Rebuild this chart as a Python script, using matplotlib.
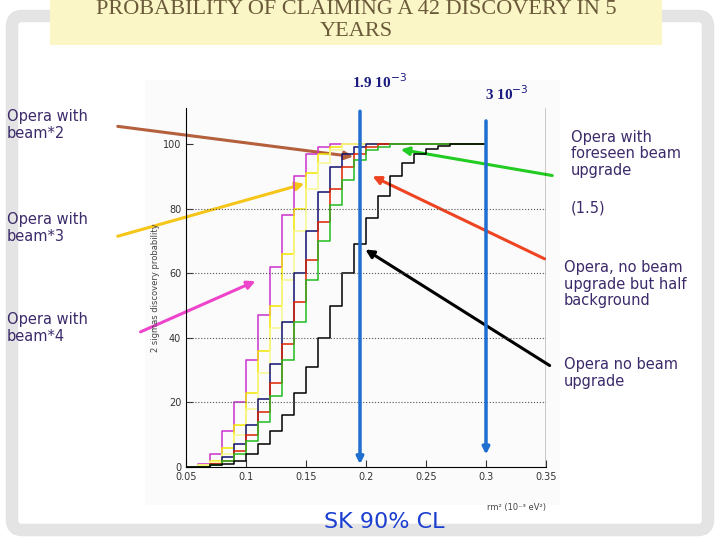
import matplotlib
matplotlib.use("Agg")
import matplotlib.pyplot as plt
from matplotlib.patches import FancyBboxPatch, Rectangle

x = [0.05 + 0.01 * i for i in range(26)]
magenta = [0, 1, 4, 11, 20, 33, 47, 62, 78, 90, 97, 99, 100, 100, 100, 100, 100, 100, 100, 100, 100, 100, 100, 100, 100, 100]
yellow = [0, 0.5, 2, 6, 13, 23, 36, 50, 66, 80, 91, 97, 99, 100, 100, 100, 100, 100, 100, 100, 100, 100, 100, 100, 100, 100]
lyellow = [0, 0.5, 1.5, 4, 10, 18, 29, 43, 58, 73, 86, 94, 98, 100, 100, 100, 100, 100, 100, 100, 100, 100, 100, 100, 100, 100]
navy = [0, 0, 1, 3, 7, 13, 21, 32, 45, 60, 73, 85, 93, 97, 99, 100, 100, 100, 100, 100, 100, 100, 100, 100, 100, 100]
red = [0, 0, 1, 2, 5, 10, 17, 26, 38, 51, 64, 76, 86, 93, 97, 99, 100, 100, 100, 100, 100, 100, 100, 100, 100, 100]
green = [0, 0, 0.5, 2, 4, 8, 14, 22, 33, 45, 58, 70, 81, 89, 95, 98, 99, 100, 100, 100, 100, 100, 100, 100, 100, 100]
black = [0, 0, 0.5, 1, 2, 4, 7, 11, 16, 23, 31, 40, 50, 60, 69, 77, 84, 90, 94, 97, 98.5, 99.5, 100, 100, 100, 100]
series = [(magenta, "#cc33cc"), (yellow, "#f2e600"), (lyellow, "#f8f890"), (navy, "#101070"),
          (red, "#dd2200"), (green, "#22bb22"), (black, "#000000")]
yticks = [0, 20, 40, 60, 80, 100]
xticks = [0.05, 0.1, 0.15, 0.2, 0.25, 0.3, 0.35]
xtick_labels = ["0.05", "0.1", "0.15", "0.2", "0.25", "0.3", "0.35"]
sk_line = 0.195
line2 = 0.30

W, H = 720, 540
fig = plt.figure(figsize=(7.2, 5.4), dpi=100)
bg = fig.add_axes([0, 0, 1, 1])
bg.set_xlim(0, W); bg.set_ylim(H, 0); bg.axis("off")
bg.add_patch(Rectangle((0, 0), W, H, fc="#ffffff", ec="none"))
bg.add_patch(FancyBboxPatch((12, 16), 696, 514, boxstyle="round,pad=0,rounding_size=10",
                            fc="#ffffff", ec="#e4e4e4", lw=9))
bg.add_patch(Rectangle((145, 80), 415, 425, fc="#fbfbfb", ec="none"))
bg.add_patch(Rectangle((50, -5), 612, 50, fc="#fbf6c6", ec="none"))
bg.text(356, 10, "PROBABILITY OF CLAIMING A 42 DISCOVERY IN 5", ha="center", va="center",
        fontsize=16, family="Liberation Serif", color="#6b5a3a")
bg.text(356, 31, "YEARS", ha="center", va="center", fontsize=16, family="Liberation Serif", color="#6b5a3a")

ax = fig.add_axes([186 / W, 1 - 467 / H, 360 / W, (467 - 108) / H])
for vals, c in series:
    ax.step(x, vals, where="post", color=c, lw=1.1)
ax.set_xlim(0.05, 0.35)
ax.set_ylim(0, 100 * 359 / 323)
ax.set_facecolor("none")
for v in yticks[1:-1]:
    ax.axhline(v, color="#555555", ls=":", lw=0.8)
ax.axvline(0.35, color="black", lw=1)
ax.spines["top"].set_visible(False)
ax.spines["right"].set_visible(False)
ax.set_yticks(yticks)
ax.set_xticks(xticks)
ax.set_xticklabels(xtick_labels)
ax.tick_params(labelsize=7, colors="#333333", direction="in", length=5)
ax.set_ylabel("2 sigmas discovery probability", fontsize=6, color="#444444", labelpad=2)
ax.text(0.35, -11, "rm² (10⁻³ eV²)", ha="right", va="top", fontsize=6, color="#444444")
for xv, top in [(sk_line, 111), (line2, 108)]:
    ax.annotate("", xy=(xv, 0 if xv == sk_line else 3), xytext=(xv, top),
                arrowprops=dict(arrowstyle="-|>", color="#1f6fd0", lw=2.5, mutation_scale=10),
                annotation_clip=False)

bg.text(380, 82, "1.9 10$^{-3}$", ha="center", va="center", fontsize=11, family="Liberation Serif",
        weight="bold", color="#1a1a80")
bg.text(507, 94, "3 10$^{-3}$", ha="center", va="center", fontsize=11, family="Liberation Serif",
        weight="bold", color="#1a1a80")
bg.text(384, 522, "SK 90% CL", ha="center", va="center", fontsize=16, color="#1a3fd0")

arrows = [((115, 126), (356, 157), "#b5603c"), ((115, 237), (307, 183), "#f5c518"),
          ((138, 333), (258, 280), "#ee44cc"), ((555, 176), (398, 149), "#22cc22"),
          ((547, 260), (370, 175), "#ee4422"), ((552, 367), (363, 248), "#000000")]
for t, h, c in arrows:
    bg.annotate("", xy=h, xytext=t, arrowprops=dict(arrowstyle="-|>", color=c, lw=2.2, mutation_scale=12))

tc = "#3c2a6a"
for xx, yy, s in [(7, 125, "Opera with\nbeam*2"), (7, 228, "Opera with\nbeam*3"), (7, 328, "Opera with\nbeam*4"),
                  (571, 154, "Opera with\nforeseen beam\nupgrade"), (571, 208, "(1.5)"),
                  (564, 284, "Opera, no beam\nupgrade but half\nbackground"), (564, 373, "Opera no beam\nupgrade")]:
    bg.text(xx, yy, s, ha="left", va="center", fontsize=10.5, color=tc, linespacing=1.15)

fig.savefig("out.png", dpi=100)
